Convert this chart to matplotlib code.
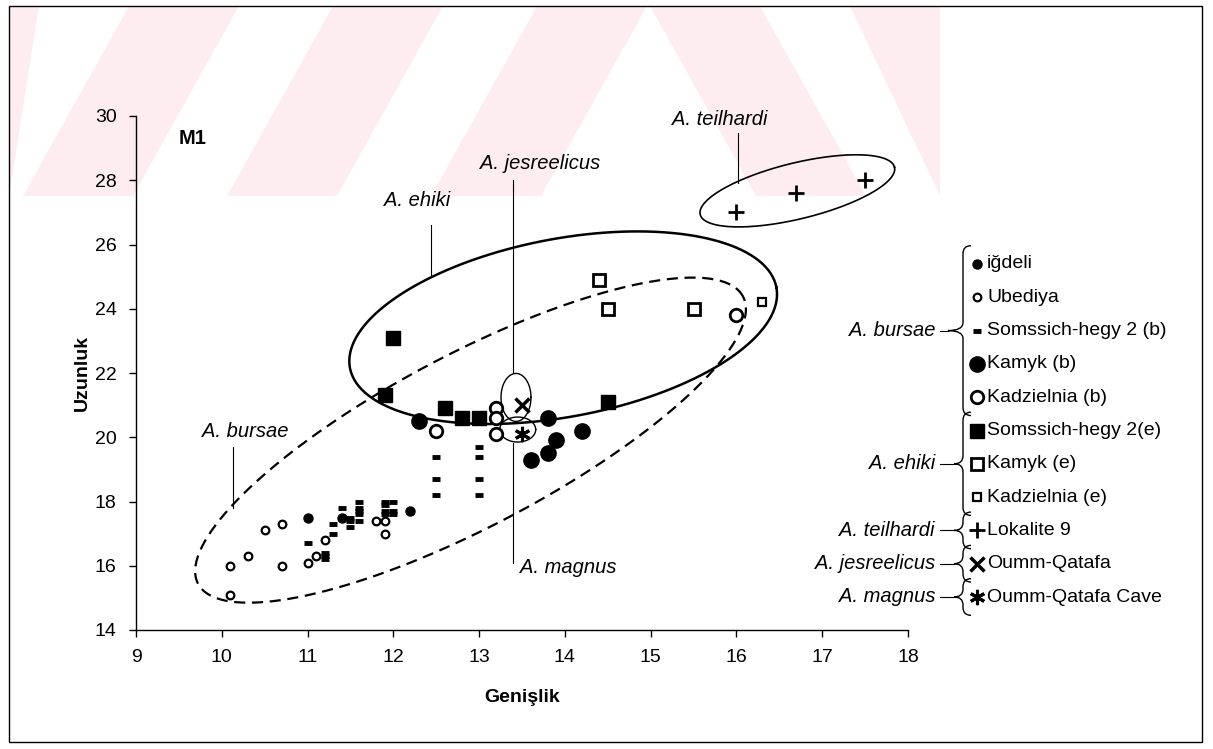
import numpy as np
import matplotlib.pyplot as plt
from matplotlib.lines import Line2D
from matplotlib.patches import Polygon, Rectangle, PathPatch
from matplotlib.path import Path

plt.rcParams['font.family'] = ['Liberation Sans', 'DejaVu Sans']

W, H = 1213, 749

# --- data (Genişlik, Uzunluk) ---
igdeli_x = [11.0, 11.4, 12.2]
igdeli_y = [17.5, 17.5, 17.7]
ubediya_x = [10.1, 10.1, 10.3, 10.5, 10.7, 10.7, 11.0, 11.1, 11.2, 11.8, 11.9, 11.9]
ubediya_y = [16.0, 15.1, 16.3, 17.1, 17.3, 16.0, 16.1, 16.3, 16.8, 17.4, 17.4, 17.0]
somb_x = [11.0, 11.2, 11.2, 11.2, 11.3, 11.3, 11.4, 11.5, 11.5, 11.5, 11.6, 11.6, 11.6,
          11.6, 11.6, 11.9, 11.9, 11.9, 11.9, 12.0, 12.0, 12.0, 12.5, 12.5, 12.5,
          13.0, 13.0, 13.0, 13.0]
somb_y = [16.7, 16.2, 16.3, 16.4, 17.0, 17.3, 17.8, 17.2, 17.4, 17.5, 17.4, 17.6, 17.7,
          17.8, 18.0, 17.6, 17.7, 17.9, 18.0, 17.6, 17.7, 18.0, 18.2, 18.7, 19.4,
          18.2, 18.7, 19.4, 19.7]
kamb_x = [12.3, 13.8, 13.6, 13.8, 13.9, 14.2]
kamb_y = [20.5, 20.6, 19.3, 19.5, 19.9, 20.2]
kadb_x = [12.5, 13.2, 13.2, 13.2, 16.0]
kadb_y = [20.2, 20.9, 20.6, 20.1, 23.8]
some_x = [12.0, 11.9, 12.6, 12.8, 13.0, 14.5]
some_y = [23.1, 21.3, 20.9, 20.6, 20.6, 21.1]
kame_x = [14.4, 14.5, 15.5]
kame_y = [24.9, 24.0, 24.0]
kade_x = [16.3]
kade_y = [24.2]
lok_x = [16.0, 16.7, 17.5]
lok_y = [27.0, 27.6, 28.0]
oq_x = [13.5]
oq_y = [21.0]
oqc_x = [13.5]
oqc_y = [20.1]

x_ticks = list(range(9, 19))
y_ticks = list(range(14, 31, 2))

# group ellipses: centre (data), semi-axes (px), screen angle (deg)
ell_ehiki = (13.98, 23.41, 217, 89, 10.7)
ell_bursae = (12.90, 19.91, 308, 86, 27.8)
ell_teilhardi = (16.71, 27.67, 100, 28, 13.7)
ell_jesreelicus = (13.43, 21.24, 15, 24, 0)
ell_magnus = (13.45, 20.24, 18, 12.5, 0)

fig = plt.figure(figsize=(W/100, H/100), dpi=100)
ax = fig.add_axes([136/W, 1 - 630/H, (908 - 136)/W, (630 - 116)/H])
ax.set_facecolor('none')
ax.set_xlim(9, 18)
ax.set_ylim(14, 30)

kx = ax.bbox.width / 9
ky = ax.bbox.height / 16


def ellipse(cx, cy, a, b, ang, **kw):
    t = np.linspace(0, 2*np.pi, 300)
    th = np.radians(ang)
    u = a*np.cos(t)*np.cos(th) - b*np.sin(t)*np.sin(th)
    v = a*np.cos(t)*np.sin(th) + b*np.sin(t)*np.cos(th)
    ax.plot(cx + u/kx, cy + v/ky, color='black', clip_on=False, **kw)


ellipse(*ell_ehiki, lw=1.8)
ellipse(*ell_bursae, lw=1.6, dashes=(5, 3))
ellipse(*ell_teilhardi, lw=1.2)
ellipse(*ell_jesreelicus, lw=1.0)
ellipse(*ell_magnus, lw=1.0)

# points
ax.plot(somb_x, somb_y, ls='none', marker='_', ms=6, mew=3.5, color='black')
ax.plot(ubediya_x, ubediya_y, ls='none', marker='o', ms=5.5, mfc='white', mec='black', mew=1.6)
ax.plot(igdeli_x, igdeli_y, ls='none', marker='o', ms=6.5, color='black')
ax.plot(kamb_x, kamb_y, ls='none', marker='o', ms=11, color='black')
ax.plot(kadb_x, kadb_y, ls='none', marker='o', ms=9, mfc='white', mec='black', mew=2)
ax.plot(some_x, some_y, ls='none', marker='s', ms=10, color='black')
ax.plot(kame_x, kame_y, ls='none', marker='s', ms=9, mfc='white', mec='black', mew=2)
ax.plot(kade_x, kade_y, ls='none', marker='s', ms=5.5, mfc='white', mec='black', mew=1.6)
ax.plot(lok_x, lok_y, ls='none', marker='+', ms=11, mew=2, color='black')
ax.plot(oq_x, oq_y, ls='none', marker='x', ms=10, mew=2.5, color='black')
ax.plot(oqc_x, oqc_y, ls='none', marker=(6, 2, 0), ms=11, mew=2.2, color='black')

# axes styling
for s in ['top', 'right']:
    ax.spines[s].set_visible(False)
ax.spines['left'].set_linewidth(1.0)
ax.spines['bottom'].set_linewidth(1.0)
ax.set_xticks(x_ticks)
ax.set_yticks(y_ticks)
ax.tick_params(direction='out', length=5, width=1, labelsize=14, pad=9)
ax.set_xlabel('Genişlik', fontsize=14, fontweight='bold', labelpad=16)
ax.set_ylabel('Uzunluk', fontsize=14, fontweight='bold', labelpad=3)
ax.text(9.5, 29.3, 'M1', fontsize=14.5, fontweight='bold', ha='left', va='center')

# group labels with leader lines
lab = dict(fontsize=14.5, style='italic', ha='center', va='center')
ax.text(15.81, 29.89, 'A. teilhardi', **lab)
ax.plot([16.02, 16.02], [29.48, 27.9], color='black', lw=0.8)
ax.text(13.71, 28.52, 'A. jesreelicus', **lab)
ax.plot([13.39, 13.39], [28.02, 22.0], color='black', lw=0.8)
ax.text(12.28, 27.36, 'A. ehiki', **lab)
ax.plot([12.44, 12.44], [26.62, 25.0], color='black', lw=0.8)
ax.text(10.27, 20.17, 'A. bursae', **lab)
ax.plot([10.13, 10.13], [19.7, 17.8], color='black', lw=0.8)
ax.text(13.48, 15.93, 'A. magnus', fontsize=14.5, style='italic', ha='left', va='center')
ax.plot([13.39, 13.39], [19.83, 16.1], color='black', lw=0.8)


def fx(px):
    return px / W


def fy(py):
    return 1 - py / H


# legend on the right
leg_names = ['iğdeli', 'Ubediya', 'Somssich-hegy 2 (b)', 'Kamyk (b)', 'Kadzielnia (b)',
             'Somssich-hegy 2(e)', 'Kamyk (e)', 'Kadzielnia (e)', 'Lokalite 9',
             'Oumm-Qatafa', 'Oumm-Qatafa Cave']
leg_styles = [
    dict(marker='o', ms=6.5, color='black'),
    dict(marker='o', ms=5.5, mfc='white', mec='black', mew=1.6),
    dict(marker='_', ms=6, mew=3.5, color='black'),
    dict(marker='o', ms=11, color='black'),
    dict(marker='o', ms=9, mfc='white', mec='black', mew=2),
    dict(marker='s', ms=10, color='black'),
    dict(marker='s', ms=9, mfc='white', mec='black', mew=2),
    dict(marker='s', ms=5.5, mfc='white', mec='black', mew=1.6),
    dict(marker='+', ms=11, mew=2, color='black'),
    dict(marker='x', ms=10, mew=2.5, color='black'),
    dict(marker=(6, 2, 0), ms=11, mew=2.2, color='black'),
]
row0, step = 264, 33.3
for i, (name, st) in enumerate(zip(leg_names, leg_styles)):
    py = row0 + i * step
    fig.add_artist(Line2D([fx(977)], [fy(py)], ls='none', transform=fig.transFigure, **st))
    fig.text(fx(987), fy(py), name, fontsize=14, ha='left', va='center')


def brace(top, bot, tip, x0=963, tl=10, cw=8):
    verts = [(x0 + cw, top), (x0, top), (x0, top + cw),
             (x0, tip - cw), (x0, tip), (x0 - tl, tip),
             (x0, tip), (x0, tip + cw),
             (x0, bot - cw), (x0, bot), (x0 + cw, bot)]
    codes = [Path.MOVETO, Path.CURVE3, Path.CURVE3,
             Path.LINETO, Path.CURVE3, Path.CURVE3,
             Path.CURVE3, Path.CURVE3,
             Path.LINETO, Path.CURVE3, Path.CURVE3]
    verts = [(fx(a), fy(b)) for a, b in verts]
    fig.add_artist(PathPatch(Path(verts, codes), fill=False, lw=1.0, ec='black',
                             transform=fig.transFigure))


groups = [('A. bursae', 0, 4), ('A. ehiki', 5, 7), ('A. teilhardi', 8, 8),
          ('A. jesreelicus', 9, 9), ('A. magnus', 10, 10)]
for name, i0, i1 in groups:
    top = row0 + (i0 - 0.55) * step
    bot = row0 + (i1 + 0.55) * step
    tip = row0 + (i0 + i1) / 2 * step
    tl = 15 if i1 - i0 > 2 else 9
    brace(top, bot, tip, tl=tl)
    fig.text(fx(935), fy(tip), name, fontsize=14.5, style='italic', ha='right', va='center')
    fig.add_artist(Line2D([fx(940), fx(963 - tl)], [fy(tip), fy(tip)], lw=0.8, color='black',
                          transform=fig.transFigure))

# outer frame
fig.add_artist(Rectangle((fx(9), fy(742)), fx(1202) - fx(9), fy(6) - fy(742), fill=False,
                         lw=1.0, ec='black', transform=fig.transFigure))

# faint watermark band at the top
pink = '#fdedf0'
stripes = [(-177, 1), (23, 1), (227, 1), (431, 1), (650, -1), (850, -1)]
for b, d in stripes:
    if d > 0:
        poly = [(b, 196), (b + 110, 196), (b + 216, 6), (b + 106, 6)]
    else:
        poly = [(b, 6), (b + 110, 6), (b + 216, 196), (b + 106, 196)]
    poly = [(fx(min(max(a, 9), 940)), fy(c)) for a, c in poly]
    fig.add_artist(Polygon(poly, closed=True, fc=pink, ec='none', zorder=-5,
                           transform=fig.transFigure))

fig.savefig('out.png', dpi=100)
